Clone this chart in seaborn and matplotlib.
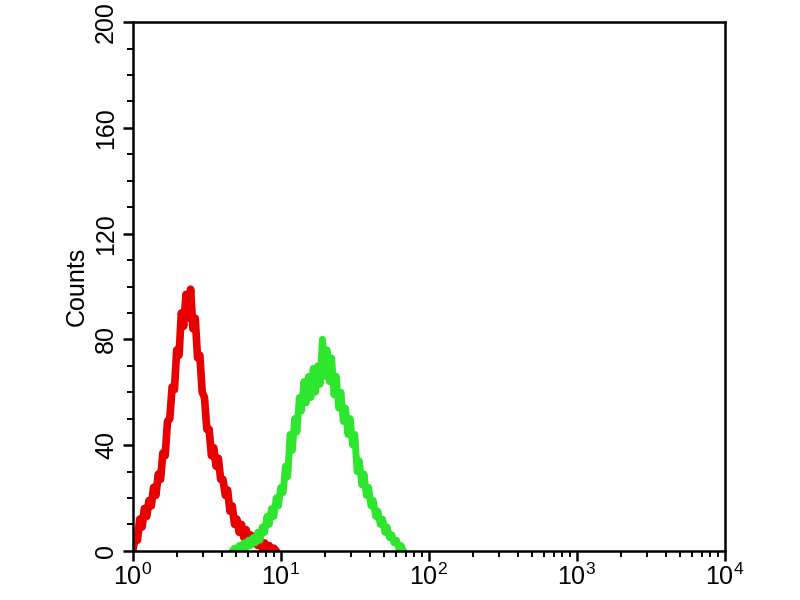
import numpy as np
import matplotlib.pyplot as plt
import seaborn as sns
import pandas as pd
from matplotlib.ticker import MultipleLocator, LogLocator

# flow cytometry histograms, 256 channels per decade, read every 4 channels
CHANNELS_PER_DECADE = 256
CHANNEL_STEP = 4

red_start = 0
red_counts = [
    0, 5, 4, 12, 9, 16, 13, 19, 17, 24, 21, 29, 27, 37, 36, 49, 50, 62, 61, 76,
    74, 90, 85, 97, 88, 99, 84, 88, 73, 74, 60, 58, 46, 46, 36, 39, 32, 35, 27, 27,
    21, 23, 15, 17, 10, 12, 7, 10, 5, 8, 4, 6, 3, 5, 2, 4, 1, 3, 1, 2, 0, 1, 0,
]

green_start = 172
green_counts = [
    0, 1, 0, 2, 1, 3, 1, 4, 2, 5, 3, 7, 4, 9, 7, 13, 10, 16, 13, 20,
    17, 24, 22, 32, 28, 44, 38, 50, 45, 58, 53, 64, 56, 66, 58, 69, 60, 70, 63, 80,
    66, 76, 64, 73, 59, 66, 54, 60, 49, 54, 44, 50, 40, 44, 30, 34, 25, 29, 21, 24,
    17, 19, 13, 15, 10, 12, 7, 9, 5, 6, 3, 4, 1, 2, 0,
]


def to_frame(start, counts):
    ch = start + CHANNEL_STEP * np.arange(len(counts))
    return pd.DataFrame({"x": 10 ** (ch / CHANNELS_PER_DECADE), "y": counts})


sns.set_style("ticks")
plt.rcParams["font.family"] = ["Liberation Sans", "DejaVu Sans"]

fig = plt.figure(figsize=(8, 6), dpi=100)
ax = fig.add_axes([0.166, 0.082, 0.74, 0.881])

sns.lineplot(data=to_frame(red_start, red_counts), x="x", y="y", color="#e80000",
             linewidth=5.5, estimator=None, ax=ax)
sns.lineplot(data=to_frame(green_start, green_counts), x="x", y="y", color="#2ee62e",
             linewidth=5, estimator=None, ax=ax)

ax.set_xscale("log")
ax.set_xlim(1, 1e4)
ax.set_ylim(0, 200)
ax.yaxis.set_major_locator(MultipleLocator(40))
ax.yaxis.set_minor_locator(MultipleLocator(10))
ax.xaxis.set_major_locator(LogLocator(base=10))
ax.xaxis.set_minor_locator(LogLocator(base=10, subs=np.arange(2, 10)))

for s in ax.spines.values():
    s.set_linewidth(1.8)
    s.set_color("black")
    s.set_visible(True)

ax.tick_params(axis="both", which="major", length=7, width=1.8, labelsize=18,
               direction="out", colors="black")
ax.tick_params(axis="both", which="minor", length=4, width=1.4, direction="out", colors="black")
ax.tick_params(axis="x", pad=2)
for lbl in ax.get_yticklabels():
    lbl.set_rotation(90)
    lbl.set_va("center")

ax.set_xlabel("")
ax.set_ylabel("Counts", fontsize=18, color="black", labelpad=4)

plt.savefig("out.png", dpi=100)
